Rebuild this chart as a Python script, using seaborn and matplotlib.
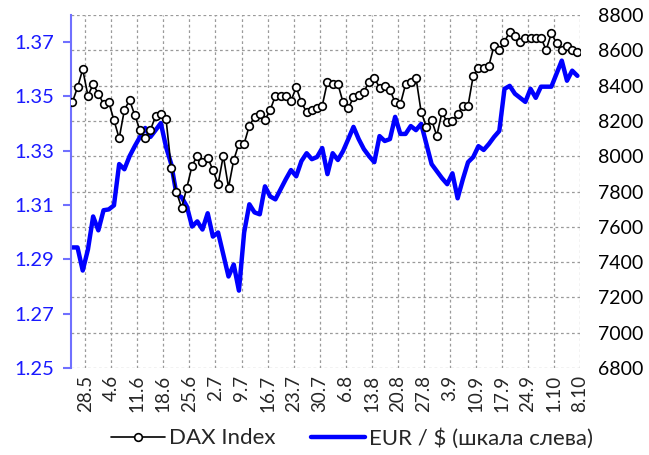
import matplotlib
matplotlib.use("Agg")
import matplotlib.pyplot as plt
import seaborn as sns
import numpy as np
import pandas as pd

# weekly labels on the trading-day axis
tick_labels = ["28.5", "4.6", "11.6", "18.6", "25.6", "2.7", "9.7", "16.7", "23.7", "30.7",
               "6.8", "13.8", "20.8", "27.8", "3.9", "10.9", "17.9", "24.9", "1.10", "8.10"]

# DAX Index, right scale
dax = [8305, 8390, 8492, 8343, 8407, 8354, 8296, 8305, 8205, 8101,
       8262, 8318, 8232, 8147, 8101, 8148, 8228, 8239, 8211, 7933,
       7797, 7708, 7822, 7946, 8003, 7969, 7991, 7922, 7842, 8003,
       7822, 7978, 8071, 8071, 8173, 8222, 8241, 8205, 8262, 8341,
       8341, 8341, 8314, 8390, 8305, 8249, 8260, 8275, 8286, 8422,
       8409, 8409, 8305, 8271, 8334, 8347, 8365, 8422, 8445, 8388,
       8399, 8375, 8305, 8294, 8407, 8419, 8445, 8249, 8167, 8205,
       8116, 8249, 8192, 8199, 8237, 8286, 8286, 8456, 8501, 8501,
       8513, 8626, 8602, 8649, 8705, 8681, 8649, 8671, 8671, 8671,
       8671, 8602, 8696, 8640, 8602, 8626, 8602, 8589]

# EUR / USD, left scale
eur = [1.2944, 1.2944, 1.2859, 1.2936, 1.3058, 1.3007, 1.3081, 1.3084, 1.3099, 1.3251,
       1.3232, 1.3280, 1.3317, 1.3351, 1.3384, 1.3351, 1.3376, 1.3402, 1.3314, 1.3251,
       1.3140, 1.3129, 1.3095, 1.3021, 1.3040, 1.3010, 1.3070, 1.2984, 1.2999, 1.2918,
       1.2837, 1.2881, 1.2785, 1.2999, 1.3103, 1.3073, 1.3066, 1.3169, 1.3132, 1.3121,
       1.3158, 1.3195, 1.3229, 1.3206, 1.3262, 1.3291, 1.3269, 1.3277, 1.3310, 1.3214,
       1.3291, 1.3266, 1.3299, 1.3343, 1.3388, 1.3343, 1.3306, 1.3280, 1.3258, 1.3354,
       1.3336, 1.3343, 1.3425, 1.3362, 1.3362, 1.3391, 1.3376, 1.3399, 1.3325, 1.3251,
       1.3225, 1.3199, 1.3177, 1.3217, 1.3125, 1.3195, 1.3258, 1.3277, 1.3317, 1.3303,
       1.3325, 1.3351, 1.3373, 1.3528, 1.3539, 1.3510, 1.3495, 1.3480, 1.3528, 1.3495,
       1.3536, 1.3536, 1.3536, 1.3584, 1.3632, 1.3558, 1.3595, 1.3576]

df = pd.DataFrame({"day": np.arange(len(dax)), "dax": dax, "eur": eur})
week_pos = np.arange(len(tick_labels)) * 5 + 2.5

sns.set_style("white")
plt.rcParams["font.family"] = ["Lato", "Open Sans", "DejaVu Sans"]

fig = plt.figure(figsize=(6.49, 4.55), dpi=100)
rect = [71 / 649, 1 - 368 / 455, (580 - 71) / 649, (368 - 15) / 455]
ax_grid = fig.add_axes(rect)
ax_eur = fig.add_axes(rect)
ax_dax = fig.add_axes(rect)
ax_grid.set_zorder(0)
ax_eur.set_zorder(1)
ax_dax.set_zorder(2)
ax_eur.patch.set_visible(False)
ax_dax.patch.set_visible(False)

xlim = (-0.25, 97.5)

# grid layer (follows the DAX scale)
ax_grid.set_xlim(xlim)
ax_grid.set_ylim(6800, 8800)
ax_grid.set_xticks(week_pos)
ax_grid.set_yticks(np.arange(6800, 8801, 200))
ax_grid.grid(True, color="#9a9a9a", linestyle=(0, (2.2, 2.2)), linewidth=0.9)
ax_grid.tick_params(length=0, labelbottom=False, labelleft=False)
for s in ax_grid.spines.values():
    s.set_visible(False)

# EUR / $ on the left
sns.lineplot(data=df, x="day", y="eur", ax=ax_eur, color="#0000ff", linewidth=3.2,
             label="EUR / $ (шкала слева)", legend=False)
ax_eur.set_xlim(xlim)
ax_eur.set_ylim(1.25, 1.38)
ax_eur.set_yticks(np.arange(1.25, 1.375, 0.02))
ax_eur.set_yticklabels([f"{v:.2f}" for v in np.arange(1.25, 1.375, 0.02)])
ax_eur.set_xticks(week_pos)
ax_eur.set_xticklabels(tick_labels, rotation=90)
ax_eur.tick_params(axis="y", colors="#7070ff", labelcolor="#1a1aff", length=6, width=1.5,
                   direction="out", left=True, labelsize=14.5, pad=6)
ax_eur.tick_params(axis="x", length=0, labelsize=13.5, pad=5)
ax_eur.set_xlabel("")
ax_eur.set_ylabel("")
for s in ["top", "right", "bottom"]:
    ax_eur.spines[s].set_visible(False)
ax_eur.spines["left"].set_color("#7070ff")
ax_eur.spines["left"].set_linewidth(1.5)

# DAX on the right
sns.lineplot(data=df, x="day", y="dax", ax=ax_dax, color="black", linewidth=1.2,
             marker="o", markersize=5.5, markerfacecolor="white", markeredgecolor="black",
             markeredgewidth=1.2, label="DAX Index", legend=False)
ax_dax.set_xlim(xlim)
ax_dax.set_ylim(6800, 8800)
ax_dax.set_yticks(np.arange(6800, 8801, 200))
ax_dax.yaxis.tick_right()
ax_dax.tick_params(axis="y", length=0, labelsize=14, pad=13, labelcolor="black")
ax_dax.set_xticks([])
ax_dax.set_xlabel("")
ax_dax.set_ylabel("")
for s in ax_dax.spines.values():
    s.set_visible(False)

h1, l1 = ax_dax.get_legend_handles_labels()
h2, l2 = ax_eur.get_legend_handles_labels()
fig.legend(h1 + h2, l1 + l2, loc="center", bbox_to_anchor=(0.542, 0.037), ncol=2,
           frameon=False, fontsize=16, handlelength=2.45, handletextpad=0.15,
           columnspacing=1.6)

fig.savefig("out.png", dpi=100)
